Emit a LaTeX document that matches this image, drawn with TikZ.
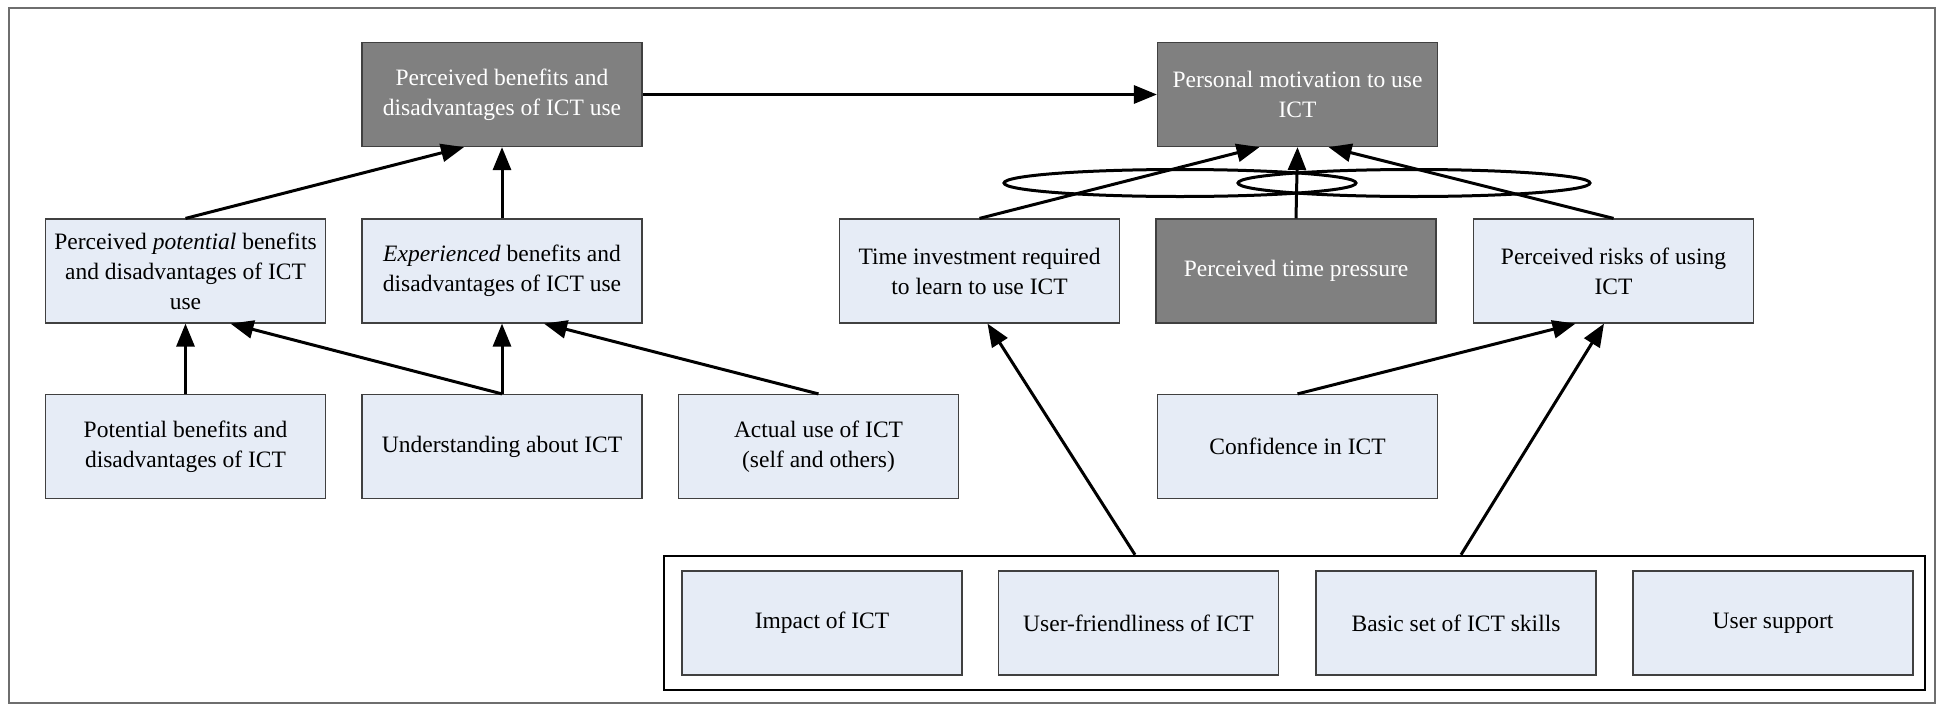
\documentclass[tikz,border=0pt]{standalone}
\usepackage{fontspec}
\setmainfont{Liberation Serif}
\usetikzlibrary{arrows.meta,shapes.geometric}
\definecolor{paleblue}{RGB}{230,236,246}
\definecolor{darkbox}{RGB}{128,128,128}
\definecolor{frameline}{RGB}{110,110,110}
\begin{document}
\begin{tikzpicture}[x=1pt,y=-1pt,
  box/.style={draw=black!75, line width=1.2pt, minimum width=280pt, minimum height=104pt,
    inner sep=4pt, align=center, font=\fontsize{23.5}{30}\selectfont},
  lightbox/.style={box, fill=paleblue, text=black},
  darkbx/.style={box, fill=darkbox, text=white},
  link/.style={line width=3pt, -{Triangle[length=23pt,width=18pt]}},
  ring/.style={ellipse, draw=black, line width=3pt, minimum width=352pt, minimum height=27pt, inner sep=0pt}
]
\useasboundingbox (0,0) rectangle (1950,707);
\draw[frameline, line width=1.5pt] (9,8) rectangle (1935,703);

% top row
\node[darkbx] (PB) at (502,94.5) {Perceived benefits and\\disadvantages of ICT use};
\node[darkbx] (PM) at (1297.5,94.5) {Personal motivation to use\\ICT};

% second row
\node[lightbox] (PP) at (185.5,271) {Perceived \textit{potential} benefits\\and disadvantages of ICT\\use};
\node[lightbox] (EX) at (502,271) {\textit{Experienced} benefits and\\disadvantages of ICT use};
\node[lightbox] (TI) at (979.5,271) {Time investment required\\to learn to use ICT};
\node[darkbx]   (TP) at (1296,271) {Perceived time pressure};
\node[lightbox] (PR) at (1613.5,271) {Perceived risks of using\\ICT};

% third row
\node[lightbox] (PO) at (185.5,446.5) {Potential benefits and\\disadvantages of ICT};
\node[lightbox] (UN) at (502,446.5) {Understanding about ICT};
\node[lightbox] (AU) at (818.5,446.5) {Actual use of ICT\\(self and others)};
\node[lightbox] (CO) at (1297.5,446.5) {Confidence in ICT};

% grouped factors
\node[draw=black, line width=2.5pt, minimum width=1261pt, minimum height=134pt, inner sep=0pt] (G) at (1294.5,623) {};
\node[lightbox] (IM) at (822,623) {Impact of ICT};
\node[lightbox] (UF) at (1138.5,623) {User-friendliness of ICT};
\node[lightbox] (BS) at (1456,623) {Basic set of ICT skills};
\node[lightbox] (US) at (1773,623) {User support};

% interaction rings
\node[ring] (E1) at (1180,183) {};
\node[ring] (E2) at (1414,183) {};

% connectors
\draw[link] (PB.east) -- (PM.west);
\draw[link] (PP.north) -- ([xshift=-38pt]PB.south);
\draw[link] (EX.north) -- (PB.south);
\draw[link] (PO.north) -- (PP.south);
\draw[link] (UN.north) -- ([xshift=45pt]PP.south);
\draw[link] (UN.north) -- (EX.south);
\draw[link] (AU.north) -- ([xshift=42pt]EX.south);
\draw[link] (TI.north) -- ([xshift=-38pt]PM.south);
\draw[link] (TP.north) -- (PM.south);
\draw[link] (PR.north) -- ([xshift=31pt]PM.south);
\draw[link] (CO.north) -- ([xshift=-38pt]PR.south);
\draw[link] ([xshift=-159.5pt]G.north) -- ([xshift=8pt]TI.south);
\draw[link] ([xshift=166.5pt]G.north) -- ([xshift=-9.5pt]PR.south);
\end{tikzpicture}
\end{document}
